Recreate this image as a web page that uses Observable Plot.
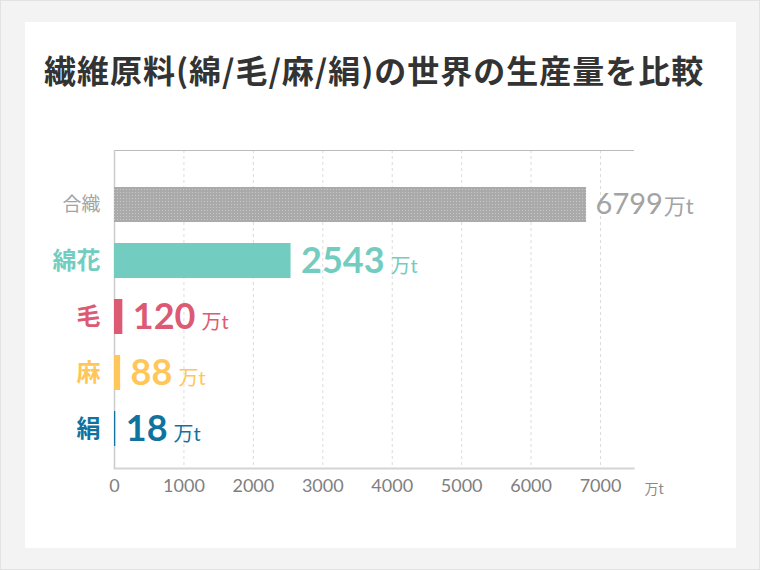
<!DOCTYPE html>
<html>
<head>
<meta charset="utf-8">
<script src="https://cdn.jsdelivr.net/npm/d3@7"></script>
<script src="https://cdn.jsdelivr.net/npm/@observablehq/plot@0.6"></script>
<style>
  html, body { margin: 0; padding: 0; }
  body { width: 760px; height: 570px; background: #f3f3f3; position: relative; overflow: hidden;
         font-family: Lato, "Noto Sans CJK JP", sans-serif; }
  #frame { position: absolute; left: 0; top: 0; width: 758px; height: 568px; border: 1px solid #e2e2e2; }
  #card { position: absolute; left: 25px; top: 22px; width: 711px; height: 526px; background: #fff; }
  #title { position: absolute; left: 44px; top: 53px; font-family: "Noto Sans CJK JP", sans-serif;
           font-weight: 700; font-size: 32px; line-height: 1; color: #333; letter-spacing: 1px; white-space: nowrap; }
  #chart { position: absolute; left: 0; top: 0; }
</style>
</head>
<body>
<div id="frame"></div>
<div id="card"></div>
<div id="title">繊維原料(綿/毛/麻/絹)の世界の生産量を比較</div>
<div id="chart"></div>
<script>
const categories = ["合織", "綿花", "毛", "麻", "絹"];
const values = [6799, 2543, 120, 88, 18];
const colors = ["url(#dots)", "#72cdc0", "#dd5a74", "#ffc659", "#10729f"];
const labelColors = ["#a3a3a3", "#72cdc0", "#dd5a74", "#ffc659", "#10729f"];
const unit = "万t";
const xTicks = [0, 1000, 2000, 3000, 4000, 5000, 6000, 7000];

const data = categories.map((c, i) => ({cat: c, value: values[i], fill: colors[i], label: labelColors[i], first: i === 0}));
const firstRow = data.filter(d => d.first);
const otherRows = data.filter(d => !d.first);

const plot = Plot.plot({
  width: 760,
  height: 520,
  marginLeft: 114,
  marginRight: 127,
  marginTop: 150,
  marginBottom: 52,
  style: {background: "transparent", overflow: "visible"},
  x: {domain: [0, 7475], axis: null},
  y: {domain: categories, axis: null, padding: 0.375, insetTop: 16, insetBottom: 1},
  color: {type: "identity"},
  marks: [
    Plot.ruleX(xTicks.slice(1), {stroke: "#dcdcdc", strokeDasharray: "3,3"}),
    Plot.frame({anchor: "top", stroke: "#bbb", strokeDasharray: "1,1"}),
    Plot.frame({anchor: "bottom", stroke: "#d4d4d4", strokeWidth: 2}),
    Plot.ruleX([0], {stroke: "#cccccc", strokeWidth: 1.5}),
    Plot.barX(data, {x: "value", y: "cat", fill: "fill"}),
    Plot.text(firstRow, {y: "cat", text: "cat", frameAnchor: "left", textAnchor: "end", dx: -14,
      fill: "label", fontSize: 19, fontFamily: "'Noto Sans CJK JP', sans-serif"}),
    Plot.text(otherRows, {y: "cat", text: "cat", frameAnchor: "left", textAnchor: "end", dx: -14,
      fill: "label", fontSize: 24, fontWeight: 700, fontFamily: "'Noto Sans CJK JP', sans-serif"}),
    Plot.text(firstRow, {x: "value", y: "cat", text: d => d.value + unit, textAnchor: "start", dx: 9,
      fill: "label", fontSize: 29, fontFamily: "Lato, 'Noto Sans CJK JP', sans-serif"}),
    Plot.text(otherRows, {x: "value", y: "cat", text: d => d.value + unit, textAnchor: "start", dx: 10,
      fill: "label", fontSize: 36, fontWeight: 700, fontFamily: "Lato, 'Noto Sans CJK JP', sans-serif"}),
    Plot.text(xTicks, {x: d => d, text: d => String(d), frameAnchor: "bottom", dy: 23,
      fill: "#808080", fontSize: 18, fontFamily: "Lato, sans-serif"}),
    Plot.text([unit], {text: d => d, frameAnchor: "bottom-right", textAnchor: "start", dx: 11, dy: 25,
      fill: "#8a8a8a", fontSize: 14, fontFamily: "'Noto Sans CJK JP', sans-serif"})
  ]
});

// pattern for the first bar
const svg = d3.select(plot);
const defs = svg.insert("defs", ":first-child");
const pat = defs.append("pattern").attr("id", "dots").attr("patternUnits", "userSpaceOnUse")
  .attr("width", 3).attr("height", 3);
pat.append("rect").attr("width", 3).attr("height", 3).attr("fill", "#aaaaaa");
pat.append("rect").attr("width", 1).attr("height", 1).attr("fill", "#c8c8c8");

// split the unit into a smaller tspan
svg.selectAll("text").each(function() {
  const t = this.textContent;
  if (t.length > unit.length && t.endsWith(unit)) {
    const bold = this.parentNode.getAttribute("font-weight") === "700" || this.getAttribute("font-weight") === "700";
    const num = t.slice(0, -unit.length);
    this.textContent = num;
    d3.select(this).append("tspan").attr("dx", bold ? 6 : 1).attr("font-size", bold ? 20 : 22)
      .attr("font-weight", 400).text(unit);
  }
});

document.getElementById("chart").appendChild(plot);
</script>
</body>
</html>
